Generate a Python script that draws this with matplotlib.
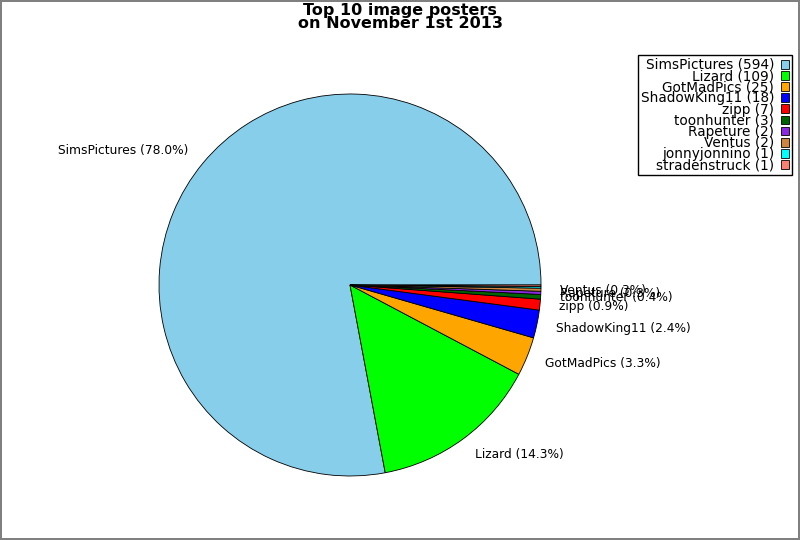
import matplotlib
matplotlib.use("Agg")
import matplotlib.pyplot as plt

names = ["SimsPictures", "Lizard", "GotMadPics", "ShadowKing11", "zipp",
         "toonhunter", "Rapeture", "Ventus", "jonnyjonnino", "stradenstruck"]
counts = [594, 109, 25, 18, 7, 3, 2, 2, 1, 1]
colors = ["skyblue", "lime", "orange", "blue", "red",
          "darkgreen", "blueviolet", "peru", "cyan", "salmon"]

total = sum(counts)
# slices under 0.2% get no label on the pie (as in the reference)
pie_labels = [f"{n} ({c / total * 100:.1f}%)" if c / total >= 0.002 else ""
              for n, c in zip(names, counts)]
legend_labels = [f"{n} ({c})" for n, c in zip(names, counts)]

fig = plt.figure(figsize=(8, 5.4), dpi=100)
fig.patch.set_edgecolor("gray")
fig.patch.set_linewidth(1.5)

r = 191
side = 2.5 * r
ax = fig.add_axes([(350 - side / 2) / 800, (255 - side / 2) / 540, side / 800, side / 540])
wedges, texts = ax.pie(counts, labels=pie_labels, colors=colors, startangle=0,
                       wedgeprops=dict(edgecolor="black", linewidth=0.6),
                       textprops=dict(fontsize=8.8))

fig.suptitle("Top 10 image posters\non November 1st 2013", fontsize=11.5,
             fontweight="bold", y=0.994, linespacing=0.8)

leg = fig.legend(wedges, legend_labels, loc="upper right",
                 bbox_to_anchor=(792 / 800, 1 - 55 / 540), borderaxespad=0,
                 fontsize=9.8, markerfirst=False, labelspacing=-0.21,
                 handlelength=0.6, handleheight=0.6, handletextpad=0.5,
                 borderpad=0.22, fancybox=False, framealpha=1, edgecolor="black")
leg.get_frame().set_linewidth(1)

fig.savefig("out.png", dpi=100, edgecolor=fig.get_edgecolor(), facecolor="white")
